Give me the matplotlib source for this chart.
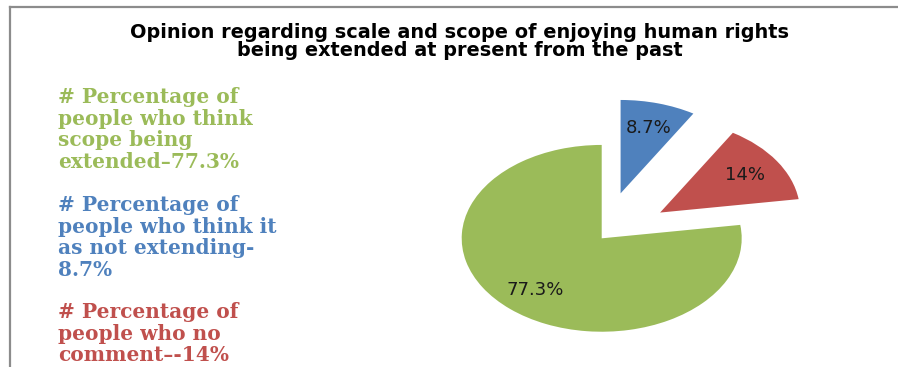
import matplotlib
matplotlib.use("Agg")
import matplotlib.pyplot as plt
from matplotlib.lines import Line2D

# slices, drawn clockwise from 12 o'clock
labels = ["Not extending", "No comment", "Scope being extended"]
values = [8.7, 14.0, 77.3]
colors = ["#4F81BD", "#C0504D", "#9BBB59"]
explode = [0.5, 0.5, 0.0]

title = ("Opinion regarding scale and scope of enjoying human rights\n"
         "being extended at present from the past")

notes = [
    ("# Percentage of\npeople who think\nscope being\nextended\u201377.3%", "#9BBB59"),
    ("# Percentage of\npeople who think it\nas not extending-\n8.7%", "#4F81BD"),
    ("# Percentage of\npeople who no\ncomment\u2013-14%", "#C0504D"),
]

W, H = 898, 367
fig = plt.figure(figsize=(W / 100, H / 100), dpi=100)

# chart frame (only the top and left edges show)
frame_kw = dict(color="#8c8c8c", lw=1.6, transform=fig.transFigure)
fig.add_artist(Line2D([10 / W, 1.0], [1 - 6.5 / H, 1 - 6.5 / H], **frame_kw))
fig.add_artist(Line2D([10 / W, 10 / W], [1 - 6.5 / H, 0.0], **frame_kw))

fig.text(460 / W, 1 - 23.5 / H, title, ha="center", va="top",
         family="DejaVu Sans", weight="bold", fontsize=13.9, linespacing=0.93,
         color="#000000")

# stretched pie: the axes aspect is left free so the circle becomes an ellipse
ax = fig.add_axes([391.7 / W, 16.6 / H, 420 / W, 261.5 / H])
wedges, _, pcts = ax.pie(values, colors=colors, explode=explode,
                         startangle=90, counterclock=False,
                         autopct=lambda p: f"{p:.3g}%", pctdistance=0.73,
                         textprops=dict(family="DejaVu Sans", fontsize=13,
                                        color="#1a1a1a"))
ax.set_aspect("auto")
ax.set_xlim(-1.5, 1.5)
ax.set_ylim(-1.2, 1.6)
ax.axis("off")

tops = [87, 195, 302]
for (txt, col), top in zip(notes, tops):
    fig.text(58 / W, 1 - top / H, txt, ha="left", va="top",
             family="DejaVu Serif", weight="bold", fontsize=14.5,
             linespacing=1.1, color=col)

fig.savefig("out.png", dpi=100)
